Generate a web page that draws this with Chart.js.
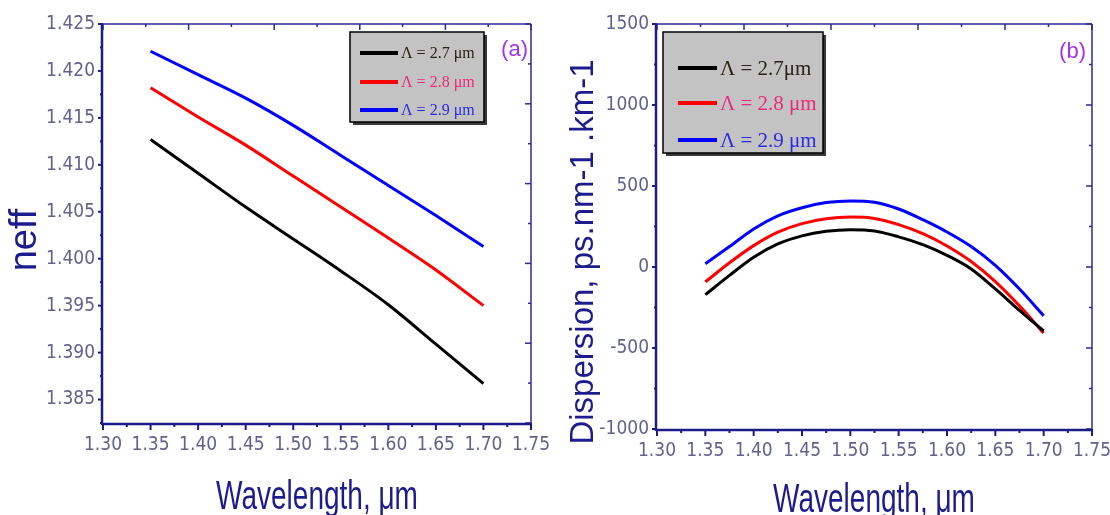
<!DOCTYPE html>
<html>
<head>
<meta charset="utf-8">
<script src="https://cdn.jsdelivr.net/npm/chart.js@4.4.1/dist/chart.umd.min.js"></script>
<style>
  body { margin: 0; background: #fff; }
  #wrap { position: relative; width: 1110px; height: 515px; }
  canvas { position: absolute; top: 0; }
  #chartA { left: 0; }
  #chartB { left: 555px; }
</style>
</head>
<body>
<div id="wrap">
  <canvas id="chartA" width="555" height="515"></canvas>
  <canvas id="chartB" width="555" height="515"></canvas>
</div>
<script>
// ---- data ----
const seriesLabelsA = ['Λ = 2.7 μm', 'Λ = 2.8 μm', 'Λ = 2.9 μm'];
const seriesLabelsB = ['Λ = 2.7μm', 'Λ = 2.8 μm', 'Λ = 2.9 μm'];

// (a) effective index vs wavelength
const wavelengthA = [1.35, 1.40, 1.45, 1.50, 1.55, 1.60, 1.65, 1.70];
const neff27 = [1.4127, 1.4091, 1.4055, 1.4021, 1.3987, 1.3951, 1.3909, 1.3867];
const neff28 = [1.4182, 1.4151, 1.4121, 1.4088, 1.4055, 1.4022, 1.3988, 1.3950];
const neff29 = [1.4221, 1.4196, 1.4171, 1.4142, 1.4110, 1.4078, 1.4046, 1.4013];

// (b) dispersion vs wavelength
const wavelengthB = [1.35, 1.375, 1.40, 1.425, 1.45, 1.475, 1.50, 1.525, 1.55, 1.575, 1.60, 1.625, 1.65, 1.675, 1.70];
const disp27 = [-171, -52, 60, 142, 192, 220, 230, 222, 186, 138, 72, -12, -135, -268, -395];
const disp28 = [-92, 26, 132, 215, 268, 298, 308, 300, 262, 206, 130, 34, -90, -240, -408];
const disp29 = [20, 126, 235, 316, 366, 398, 408, 400, 358, 292, 216, 126, 10, -136, -301];

// tick labels
const xTickLabels = ['1.30', '1.35', '1.40', '1.45', '1.50', '1.55', '1.60', '1.65', '1.70', '1.75'];
const yTickLabelsA = ['1.385', '1.390', '1.395', '1.400', '1.405', '1.410', '1.415', '1.420', '1.425'];
const yTickLabelsB = ['-1000', '-500', '0', '500', '1000', '1500'];

const lineColors = ['#000000', '#ff0000', '#0000ff'];
const legendTextColors = ['#2a2418', '#ec2a7c', '#2c2ce0'];

const AXIS = '#1c1c86';
const TITLE = '#1c1c8e';
const TICKTXT = '#62628f';
const TICKFONT = "'DejaVu Sans Condensed', 'Liberation Sans', Arial, sans-serif";
const TITLEFONT = "'Liberation Sans', Arial, sans-serif";

function toPoints(xs, ys) {
  return xs.map((x, i) => ({ x: x, y: ys[i] }));
}

// major ticks from the labels, a minor tick half way between each pair
function withMinor(labels, extraLow) {
  const v = labels.map(Number);
  const out = [];
  if (extraLow) out.push({ value: v[0] - (v[1] - v[0]) / 2, minor: true });
  v.forEach((val, i) => {
    out.push({ value: val, minor: false });
    if (i < v.length - 1) out.push({ value: (val + v[i + 1]) / 2, minor: true });
  });
  return out;
}

function makeDatasets(labels, series, xs) {
  return series.map((ys, i) => ({
    label: labels[i],
    data: toPoints(xs, ys),
    borderColor: lineColors[i],
    backgroundColor: lineColors[i],
    borderWidth: 3,
    pointRadius: 0,
    cubicInterpolationMode: 'monotone',
    fill: false
  }));
}

// frame, tick marks, axis titles, panel tag and the grey boxed legend
const framePlugin = {
  id: 'frame',
  afterDraw(chart, args, opts) {
    const { ctx, chartArea: a, scales } = chart;
    ctx.save();
    ctx.lineCap = 'butt';

    const seg = (x0, y0, x1, y1, w, c) => {
      ctx.beginPath();
      ctx.strokeStyle = c;
      ctx.lineWidth = w;
      ctx.moveTo(x0, y0);
      ctx.lineTo(x1, y1);
      ctx.stroke();
    };

    // bottom ticks (outward)
    scales.x.ticks.forEach(t => {
      const px = scales.x.getPixelForValue(t.value);
      seg(px, a.bottom, px, a.bottom + (t.minor ? 4 : 7), 2, AXIS);
    });
    // left ticks (outward)
    scales.y.ticks.forEach(t => {
      const py = scales.y.getPixelForValue(t.value);
      seg(a.left, py, a.left - (t.minor ? 3 : 5), py, 2, AXIS);
    });
    // top and right mirror ticks (inward), 10 divisions
    for (let k = 0; k <= 10; k++) {
      const len = k % 2 ? 3 : 6;
      const px = a.left + k * a.width / 10;
      const py = a.top + k * a.height / 10;
      seg(px, a.top, px, a.top + len, 1.5, '#2a2a9a');
      seg(a.right, py, a.right - len, py, 1.5, '#2a2a9a');
    }
    // frame
    seg(a.left, a.top, a.right, a.top, 1.5, '#2a2a9a');
    seg(a.right, a.top, a.right, a.bottom, 1.5, '#2a2a9a');
    seg(a.left, a.bottom + 1, a.right, a.bottom + 1, 2.5, AXIS);
    seg(a.left - 1, a.top, a.left - 1, a.bottom + 2, 2.5, AXIS);

    // axis titles (the source figure is stretched vertically)
    ctx.fillStyle = TITLE;
    ctx.textBaseline = 'alphabetic';
    ctx.textAlign = 'center';
    opts.titles.forEach(t => {
      ctx.save();
      ctx.translate(t.x, t.y);
      ctx.rotate(t.rot);
      ctx.scale(t.sx, t.sy);
      ctx.font = t.size + 'px ' + TITLEFONT;
      ctx.fillText(t.text, 0, 0);
      ctx.restore();
    });

    // panel tag
    ctx.fillStyle = '#a233f0';
    ctx.font = '22px ' + TITLEFONT;
    ctx.textAlign = 'right';
    ctx.textBaseline = 'middle';
    ctx.fillText(opts.tag, opts.tagX, opts.tagY);

    // legend
    const L = opts.legend;
    ctx.fillStyle = '#3a3a3a';
    ctx.fillRect(L.x + 3, L.y + 3, L.w, L.h);
    ctx.fillStyle = '#c3c3c3';
    ctx.fillRect(L.x, L.y, L.w, L.h);
    ctx.strokeStyle = '#000';
    ctx.lineWidth = 1.5;
    ctx.strokeRect(L.x, L.y, L.w, L.h);
    ctx.font = L.fontSize + "px 'Liberation Serif', 'Times New Roman', serif";
    ctx.textAlign = 'left';
    chart.data.datasets.forEach((ds, i) => {
      const ry = L.y + L.rows[i];
      seg(L.x + L.lineFrom, ry, L.x + L.lineTo, ry, 4, ds.borderColor);
      ctx.fillStyle = legendTextColors[i];
      ctx.fillText(ds.label, L.x + L.textAt, ry + 1);
    });
    ctx.restore();
  }
};

function makeChart(id, cfg) {
  const xTicks = withMinor(xTickLabels, false);
  const yTicks = withMinor(cfg.yLabels, cfg.extraLow);
  return new Chart(document.getElementById(id), {
    type: 'line',
    data: { datasets: cfg.datasets },
    options: {
      responsive: false,
      animation: false,
      devicePixelRatio: 1,
      layout: { autoPadding: false, padding: cfg.padding },
      plugins: {
        legend: { display: false },
        tooltip: { enabled: false },
        frame: cfg.frame
      },
      scales: {
        x: {
          type: 'linear',
          min: 1.30,
          max: 1.75,
          afterBuildTicks: s => { s.ticks = xTicks.map(t => ({ value: t.value, minor: t.minor })); },
          afterFit: s => {
            s.height = cfg.xHeight;
            // the end labels may stick out; don't let them shrink the plot
            s.paddingLeft = 0;
            s.paddingRight = 0;
          },
          grid: { display: false, drawTicks: false },
          border: { display: false },
          ticks: {
            autoSkip: false,
            maxRotation: 0,
            padding: 11,
            color: TICKTXT,
            font: { family: TICKFONT, size: 19 },
            callback: v => {
              const hit = xTickLabels.find(l => Math.abs(Number(l) - v) < 1e-6);
              return hit || '';
            }
          }
        },
        y: {
          type: 'linear',
          min: cfg.yMin,
          max: cfg.yMax,
          afterBuildTicks: s => { s.ticks = yTicks.map(t => ({ value: t.value, minor: t.minor })); },
          afterFit: s => {
            s.width = cfg.yWidth;
            s.paddingTop = 0;
            s.paddingBottom = 0;
          },
          grid: { display: false, drawTicks: false },
          border: { display: false },
          ticks: {
            autoSkip: false,
            padding: 8,
            color: TICKTXT,
            font: { family: TICKFONT, size: 19 },
            callback: v => {
              const hit = cfg.yLabels.find(l => Math.abs(Number(l) - v) < 1e-6);
              return hit || '';
            }
          }
        }
      }
    },
    plugins: [framePlugin]
  });
}

makeChart('chartA', {
  datasets: makeDatasets(seriesLabelsA, [neff27, neff28, neff29], wavelengthA),
  yLabels: yTickLabelsA,
  extraLow: true,
  yMin: 1.3825,
  yMax: 1.425,
  yWidth: 103,
  xHeight: 92,
  padding: { top: 24, right: 24, left: 0, bottom: 0 },
  frame: {
    tag: '(a)', tagX: 528, tagY: 50,
    titles: [
      { text: 'Wavelength, μm', x: 317, y: 509, size: 28, rot: 0, sx: 1, sy: 1.45 },
      { text: 'neff', x: 36, y: 240, size: 38, rot: -Math.PI / 2, sx: 1, sy: 1 }
    ],
    legend: { x: 350, y: 32, w: 134, h: 90, rows: [21, 50, 78], lineFrom: 10, lineTo: 48, textAt: 51, fontSize: 16 }
  }
});

makeChart('chartB', {
  datasets: makeDatasets(seriesLabelsB, [disp27, disp28, disp29], wavelengthB),
  yLabels: yTickLabelsB,
  extraLow: false,
  yMin: -1000,
  yMax: 1500,
  yWidth: 102,
  xHeight: 86,
  padding: { top: 24, right: 18, left: 0, bottom: 0 },
  frame: {
    tag: '(b)', tagX: 531, tagY: 52,
    titles: [
      { text: 'Wavelength, μm', x: 319, y: 512, size: 28, rot: 0, sx: 1, sy: 1.45 },
      { text: 'Dispersion, ps.nm-1 .km-1', x: 38, y: 252, size: 33, rot: -Math.PI / 2, sx: 1, sy: 1 }
    ],
    legend: { x: 108, y: 32, w: 160, h: 121, rows: [36, 71, 108], lineFrom: 15, lineTo: 54, textAt: 57, fontSize: 21 }
  }
});
</script>
</body>
</html>
